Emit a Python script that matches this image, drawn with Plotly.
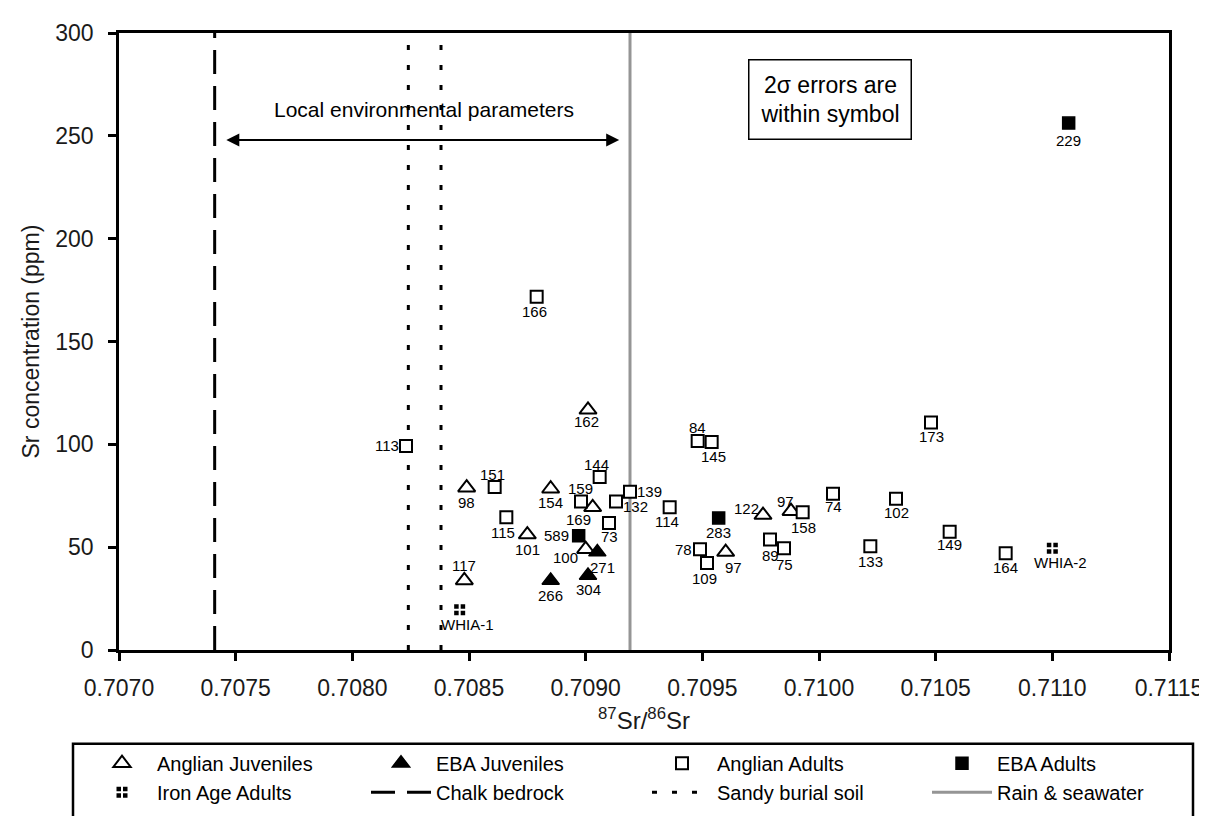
import plotly.graph_objects as go

# ---------------- data ----------------
# Anglian Juveniles (open triangles)
aj_x = [0.70901, 0.70849, 0.70885, 0.70903, 0.70875, 0.70900, 0.70848, 0.70976, 0.70988, 0.70960]
aj_y = [116.8, 78.9, 78.4, 69.4, 56.1, 49.0, 33.8, 65.6, 67.5, 47.6]
aj_lab = ['162', '98', '154', '169', '101', '100', '117', '122', '97', '97']

# EBA Juveniles (filled triangles)
ebaj_x = [0.70905, 0.70901, 0.70885]
ebaj_y = [47.6, 36.2, 33.8]
ebaj_lab = ['271', '304', '266']

# Anglian Adults (open squares)
aa_x = [0.70823, 0.70879, 0.70861, 0.70866, 0.70906, 0.70898, 0.70913, 0.70919, 0.70910,
        0.70936, 0.70948, 0.70954, 0.70949, 0.70952, 0.70979, 0.70985, 0.70993, 0.71006,
        0.71033, 0.71022, 0.71048, 0.71056, 0.71080]
aa_y = [99.2, 171.8, 79.3, 64.6, 84.1, 72.2, 72.2, 77.0, 61.8,
        69.4, 101.6, 101.1, 49.0, 42.3, 53.7, 49.5, 67.0, 76.0,
        73.6, 50.4, 110.6, 57.5, 47.1]
aa_lab = ['113', '166', '151', '115', '144', '159', '132', '139', '73',
          '114', '84', '145', '78', '109', '89', '75', '158', '74',
          '102', '133', '173', '149', '164']

# EBA Adults (filled squares)
ebaa_x = [0.70897, 0.70957, 0.71107]
ebaa_y = [55.6, 64.2, 256.2]
ebaa_lab = ['589', '283', '229']

# Iron Age Adults
ia_x = [0.70846, 0.71100]
ia_y = [19.6, 49.5]
ia_lab = ['WHIA-1', 'WHIA-2']

# Reference lines (87Sr/86Sr)
chalk_x = 0.70741
sandy_x = [0.70824, 0.70838]
rain_x = 0.70919
local_range = [0.70746, 0.70915]
local_level = 248

x_ticks = [0.7070, 0.7075, 0.7080, 0.7085, 0.7090, 0.7095, 0.7100, 0.7105, 0.7110, 0.7115]
y_ticks = [0, 50, 100, 150, 200, 250, 300]

# ---------------- label offsets (pixels: right, down) ----------------
aj_off = [(-2, 12), (0, 15), (0, 14), (-14, 12), (0, 15), (-20, 8), (0, -15), (-17, -7), (-6, -10), (8, 15)]
ebaj_off = [(5, 15), (0, 14), (0, 15)]
aa_off = [(-19, 0), (-2, 15), (-2, -12), (-3, 15), (-3, -13), (-1, -13), (19, 5), (19, 0), (0, 14),
          (-3, 14), (0, -14), (2, 14), (-17, 0), (-3, 15), (0, 16), (0, 16), (1, 15), (0, 13),
          (0, 14), (0, 15), (0, 14), (0, 13), (0, 14)]
ebaa_off = [(-22, 0), (0, 15), (0, 17)]
ia_off = [(8, 15), (8, 14)]

FONT = 'Liberation Sans, Arial, sans-serif'
lab_font = dict(family=FONT, size=15, color='black')

fig = go.Figure()

# vertical reference lines (drawn first, below markers)
fig.add_trace(go.Scatter(x=[chalk_x, chalk_x], y=[0, 300], mode='lines',
                         line=dict(color='black', width=3, dash='24px,12px'),
                         name='Chalk bedrock', legend='legend2', legendrank=2,
                         hoverinfo='skip'))
fig.add_trace(go.Scatter(x=[sandy_x[0], sandy_x[0], None, sandy_x[1], sandy_x[1]],
                         y=[0, 300, None, 0, 300], mode='lines',
                         line=dict(color='black', width=3, dash='5px,15px'),
                         name='Sandy burial soil', legend='legend3', legendrank=2,
                         hoverinfo='skip'))
fig.add_trace(go.Scatter(x=[rain_x, rain_x], y=[0, 300], mode='lines',
                         line=dict(color='#959595', width=3),
                         name='Rain & seawater', legend='legend4', legendrank=2,
                         hoverinfo='skip'))


def pts(x, y, lab, off, name, legend, symbol, fill, line_color, size, lw):
    fig.add_trace(go.Scatter(x=x, y=y, mode='markers', name=name, legend=legend, legendrank=1,
                             marker=dict(symbol=symbol, size=size, color=fill,
                                         line=dict(color=line_color, width=lw)),
                             cliponaxis=False))
    for xi, yi, t, (dx, dy) in zip(x, y, lab, off):
        fig.add_annotation(x=xi, y=yi, xref='x', yref='y', text=t, showarrow=False,
                           xanchor='center', yanchor='middle', xshift=dx, yshift=-dy,
                           font=lab_font)


pts(aj_x, aj_y, aj_lab, aj_off, 'Anglian Juveniles', 'legend', 'triangle-up', 'white', 'black', 15, 2)
pts(ebaj_x, ebaj_y, ebaj_lab, ebaj_off, 'EBA Juveniles', 'legend2', 'triangle-up', 'black', 'black', 15, 1.5)
pts(aa_x, aa_y, aa_lab, aa_off, 'Anglian Adults', 'legend3', 'square', 'white', 'black', 12, 2)
pts(ebaa_x, ebaa_y, ebaa_lab, ebaa_off, 'EBA Adults', 'legend4', 'square', 'black', 'black', 12, 1.5)
pts(ia_x, ia_y, ia_lab, ia_off, 'Iron Age Adults', 'legend', 'square-cross', 'black', 'white', 13, 2)

# ---------------- layout ----------------
L, R, T, B = 111, 46, 21, 163
W, H = 1207, 816
PW, PH = W - L - R, H - T - B


def px_x(p):
    return (p - L) / PW


def px_y(p):
    return (H - B - p) / PH


axis_common = dict(showline=True, linecolor='black', linewidth=2.5, mirror=True,
                   ticks='outside', ticklen=8, tickwidth=2.5, tickcolor='black',
                   showgrid=False, zeroline=False,
                   tickfont=dict(family=FONT, size=23, color='#1a1a1a'))

fig.update_layout(
    width=W, height=H, margin=dict(l=L, r=R, t=T, b=B),
    paper_bgcolor='white', plot_bgcolor='white',
    font=dict(family=FONT, color='black'),
    xaxis=dict(range=[x_ticks[0], x_ticks[-1]], tickvals=x_ticks,
               ticktext=['%.4f' % v for v in x_ticks], ticklabelstandoff=8, **axis_common),
    yaxis=dict(range=[y_ticks[0], y_ticks[-1]], tickvals=y_ticks,
               ticktext=[str(v) for v in y_ticks], ticklabelstandoff=10, **axis_common),
    showlegend=True,
)

leg_common = dict(orientation='v', xanchor='left', yanchor='top', y=px_y(749),
                  font=dict(family=FONT, size=20, color='black'), itemwidth=60,
                  bgcolor='rgba(0,0,0,0)', borderwidth=0, tracegroupgap=0)
fig.update_layout(
    legend=dict(x=px_x(79), **leg_common),
    legend2=dict(x=px_x(358), **leg_common),
    legend3=dict(x=px_x(639), **leg_common),
    legend4=dict(x=px_x(919), **leg_common),
)

# legend frame
fig.add_shape(type='rect', xref='paper', yref='paper',
              x0=px_x(65), x1=px_x(1185), y0=px_y(749), y1=px_y(840),
              line=dict(color='black', width=2.5), fillcolor='rgba(0,0,0,0)')

# arrow for local environmental parameters
fig.add_annotation(x=local_range[0], y=local_level, ax=local_range[1], ay=local_level,
                   xref='x', yref='y', axref='x', ayref='y', text='',
                   showarrow=True, arrowhead=2, startarrowhead=2, arrowside='end+start',
                   arrowsize=1.3, startarrowsize=1.3, arrowwidth=2, arrowcolor='black')
fig.add_annotation(x=(local_range[0] + local_range[1]) / 2, y=local_level, yshift=30,
                   xref='x', yref='y', text='Local environmental parameters',
                   xanchor='center', yanchor='middle',
                   showarrow=False, font=dict(family=FONT, size=21, color='black'))

# 2 sigma note
fig.add_annotation(x=px_x(822), y=px_y(89), xref='paper', yref='paper',
                   xanchor='center', yanchor='middle',
                   text='2σ errors are<br>within symbol', showarrow=False,
                   font=dict(family=FONT, size=23, color='black'),
                   bordercolor='black', borderwidth=1.5, borderpad=11, bgcolor='white')

# axis titles
fig.add_annotation(x=px_x(636), y=px_y(724), xref='paper', yref='paper',
                   xanchor='center', yanchor='middle',
                   text='<sup>87</sup>Sr/<sup>86</sup>Sr', showarrow=False,
                   font=dict(family=FONT, size=24, color='#1a1a1a'))
fig.add_annotation(x=px_x(22), y=px_y(337), xref='paper', yref='paper',
                   xanchor='center', yanchor='middle',
                   text='Sr concentration (ppm)', showarrow=False, textangle=-90,
                   font=dict(family=FONT, size=23, color='#1a1a1a'))

fig.write_html('out.html')
